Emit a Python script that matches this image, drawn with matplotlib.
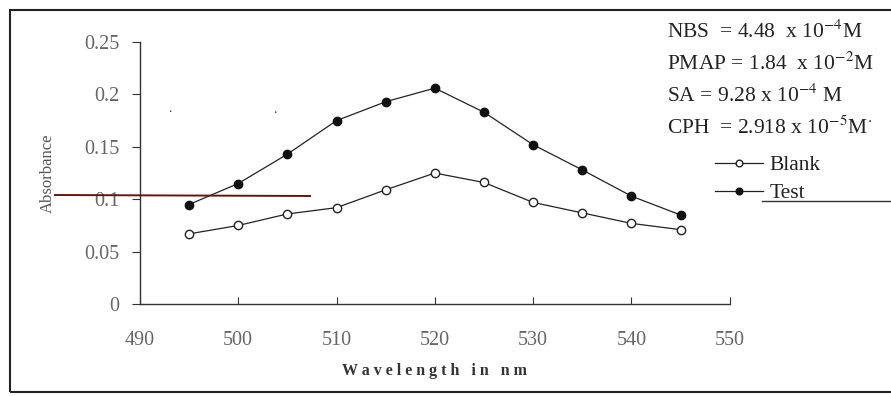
import numpy as np
import matplotlib.pyplot as plt
from matplotlib.lines import Line2D
from matplotlib.patches import Rectangle

plt.rcParams['font.family'] = ['Liberation Serif', 'DejaVu Serif']
plt.rcParams['mathtext.fontset'] = 'stix'

# --- Dados ---
comprimento = [495, 500, 505, 510, 515, 520, 525, 530, 535, 540, 545]
branco = [0.067, 0.075, 0.086, 0.092, 0.109, 0.125, 0.116, 0.097, 0.087, 0.077, 0.071]
teste = [0.095, 0.115, 0.143, 0.175, 0.193, 0.206, 0.183, 0.152, 0.128, 0.103, 0.085]
xticks = [490, 500, 510, 520, 530, 540, 550]
yticks = [0, 0.05, 0.1, 0.15, 0.2, 0.25]
ytick_labels = ['0', '0.05', '0.1', '0.15', '0.2', '0.25']
condicoes = [
    r'NBS  = 4.48  x 10$^{-4}$M',
    r'PMAP = 1.84  x 10$^{-2}$M',
    r'SA = 9.28 x 10$^{-4}$ M',
    r'CPH  = 2.918 x 10$^{-5}$M$^{\cdot}$',
]

fig = plt.figure(figsize=(8.91, 3.96), dpi=100)
ax = fig.add_axes([0.157, 0.232, 0.662, 0.662])

ax.plot(comprimento, branco, '-o', color='#222222', lw=0.9, ms=6,
        mfc='white', mec='#222222', mew=1.0, label='Blank')
ax.plot(comprimento, teste, '-o', color='#222222', lw=0.9, ms=6,
        mfc='#111111', mec='#111111', label='Test')

ax.set_xlim(490, 550)
ax.set_ylim(0, 0.25)
ax.set_xticks(xticks)
ax.set_yticks(yticks)
ax.set_yticklabels(ytick_labels)
ax.spines['top'].set_visible(False)
ax.spines['right'].set_visible(False)
for s in ['left', 'bottom']:
    ax.spines[s].set_color('#333333')
    ax.spines[s].set_linewidth(1.0)
ax.tick_params(axis='both', direction='out', length=6, colors='#333333',
               labelcolor='#666666', labelsize=14.5, pad=9)
ax.tick_params(axis='x', direction='in', length=5, pad=19)

ax.set_xlabel('W a v e l e n g t h   i n   n m', fontsize=11.5, fontweight='bold',
              color='#333333', labelpad=10)
ax.set_ylabel('Absorbance', fontsize=12, color='#555555', labelpad=20)

# linha solta e pontos do scan original
fig.add_artist(Line2D([55 / 891, 310 / 891], [1 - 195 / 396, 1 - 196 / 396],
                      color='#5a1a10', lw=1.4))
fig.text(168 / 891, 1 - 112 / 396, '.', fontsize=10, color='#444444')
fig.text(273 / 891, 1 - 113 / 396, '.', fontsize=10, color='#444444')

# condições experimentais
for i, txt in enumerate(condicoes):
    fig.text(667 / 891, 1 - (32 + i * 32) / 396, txt, fontsize=15.5,
             color='#222222', va='center')

# legenda
fig.legend(loc='upper left', bbox_to_anchor=(696 / 891, 1 - 136 / 396),
           frameon=False, fontsize=15.5, handlelength=2.2, handletextpad=0.3,
           labelspacing=0.35, labelcolor='#222222', markerscale=0.8)
fig.add_artist(Line2D([762 / 891, 1.0], [1 - 201 / 396, 1 - 201 / 396],
                      color='#333333', lw=1.0))

# moldura
fig.add_artist(Rectangle((10 / 891, 4 / 396), 1.0, 1 - 14 / 396,
                         fill=False, ec='#222222', lw=1.5))

plt.savefig('out.png', dpi=100)
plt.close()
